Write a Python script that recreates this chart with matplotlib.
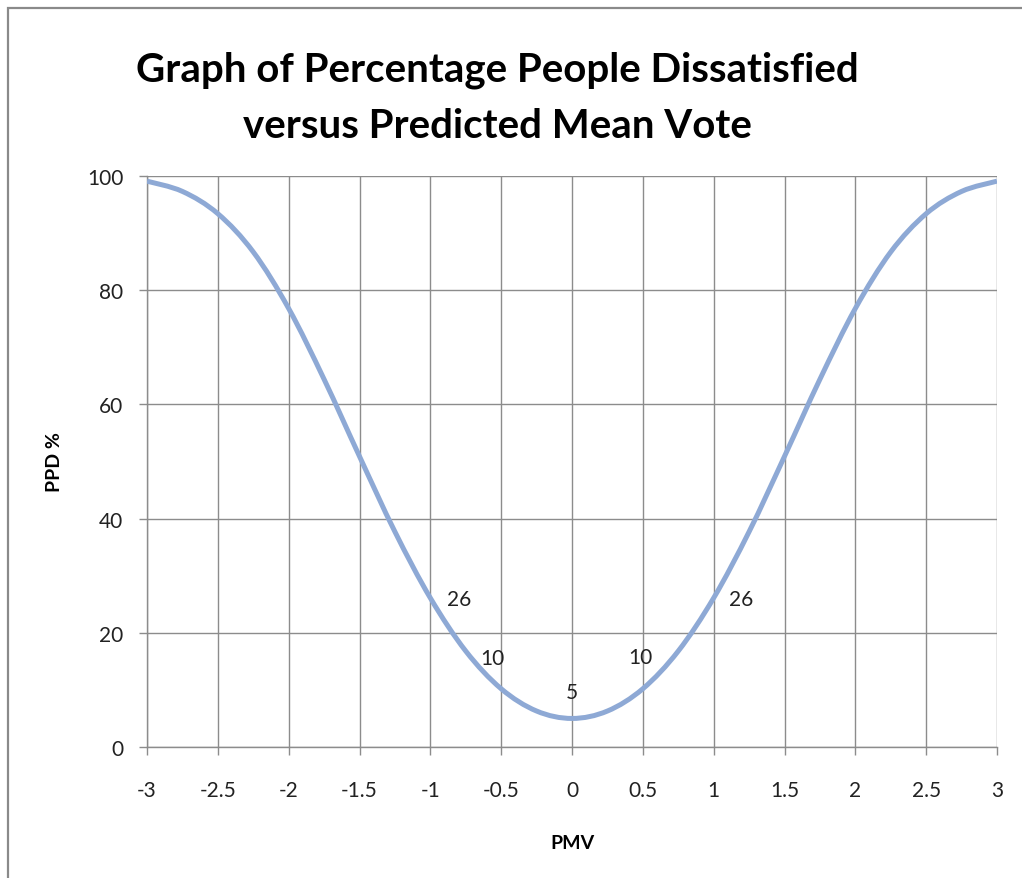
import matplotlib.pyplot as plt
from matplotlib.patches import Rectangle, PathPatch
from matplotlib.path import Path

# PMV / PPD pairs (Fanger comfort curve), read at quarter-vote steps
PMV = [-3.0, -2.75, -2.5, -2.25, -2.0, -1.75, -1.5, -1.25, -1.0, -0.75, -0.5, -0.25,
       0.0, 0.25, 0.5, 0.75, 1.0, 1.25, 1.5, 1.75, 2.0, 2.25, 2.5, 2.75, 3.0]
PPD = [99.1, 97.3, 93.4, 86.7, 76.8, 64.4, 50.9, 37.7, 26.1, 16.8, 10.2, 6.3,
       5.0, 6.3, 10.2, 16.8, 26.1, 37.7, 50.9, 64.4, 76.8, 86.7, 93.4, 97.3, 99.1]

# labelled points and where their value labels sit (offset in points)
LABEL_PMV = [-1.0, -0.5, 0.0, 0.5, 1.0]
LABEL_PPD = [26, 10, 5, 10, 26]
LABEL_OFFSETS = [(12, 0), (-6, 23), (0, 19), (-2, 24), (11, 0)]

X_TICKS = [-3, -2.5, -2, -1.5, -1, -0.5, 0, 0.5, 1, 1.5, 2, 2.5, 3]
X_TICK_LABELS = ["-3", "-2.5", "-2", "-1.5", "-1", "-0.5", "0", "0.5", "1", "1.5", "2", "2.5", "3"]
Y_TICKS = [0, 20, 40, 60, 80, 100]

LINE_COLOR = "#8EA9D5"
GRID_COLOR = "#8C8C8C"
TEXT_COLOR = "#222222"
FONT = ["Lato", "DejaVu Sans"]


def smooth_path(xs, ys):
    """Cubic Bezier through every point, like a spreadsheet 'smoothed line'."""
    pts = list(zip(xs, ys))
    verts = [pts[0]]
    codes = [Path.MOVETO]
    n = len(pts)
    for i in range(n - 1):
        p0 = pts[i - 1] if i > 0 else pts[i]
        p1 = pts[i]
        p2 = pts[i + 1]
        p3 = pts[i + 2] if i + 2 < n else pts[i + 1]
        c1 = (p1[0] + (p2[0] - p0[0]) / 6, p1[1] + (p2[1] - p0[1]) / 6)
        c2 = (p2[0] - (p3[0] - p1[0]) / 6, p2[1] - (p3[1] - p1[1]) / 6)
        verts += [c1, c2, p2]
        codes += [Path.CURVE4] * 3
    return Path(verts, codes)


plt.rcParams["font.family"] = FONT

fig = plt.figure(figsize=(10.22, 8.79), dpi=100)
W, H = 1022, 879

# chart-area frame (runs off the right and bottom edges)
fig.patches.append(Rectangle((8 / W, -0.05), 1.1, 1 - 9 / H + 0.05,
                             transform=fig.transFigure, fill=False,
                             edgecolor="#8A8A8A", linewidth=1.6))

ax = fig.add_axes([147 / W, 1 - 748 / H, (997 - 147) / W, (748 - 177) / H])

ax.add_patch(PathPatch(smooth_path(PMV, PPD), facecolor="none",
                       edgecolor=LINE_COLOR, linewidth=3.6, zorder=3))

for x, y, off in zip(LABEL_PMV, LABEL_PPD, LABEL_OFFSETS):
    ax.annotate(str(y), (x, y), xytext=off, textcoords="offset points",
                ha="left" if off[0] > 10 else "center", va="center",
                fontsize=15, color=TEXT_COLOR, zorder=4)

ax.set_xlim(-3, 3)
ax.set_ylim(0, 100)
ax.set_xticks(X_TICKS)
ax.set_xticklabels(X_TICK_LABELS)
ax.set_yticks(Y_TICKS)

ax.grid(True, color=GRID_COLOR, linewidth=1.0)
ax.set_axisbelow(True)
for side in ("top", "right"):
    ax.spines[side].set_visible(False)
for side in ("left", "bottom"):
    ax.spines[side].set_color(GRID_COLOR)
    ax.spines[side].set_linewidth(1.0)

ax.tick_params(axis="both", colors=GRID_COLOR, length=6, width=1.0,
               labelcolor=TEXT_COLOR, labelsize=15)
ax.tick_params(axis="x", pad=18)
ax.tick_params(axis="y", pad=11)

ax.set_xlabel("PMV", fontsize=14, fontweight="bold", labelpad=24)
ax.set_ylabel("PPD %", fontsize=14, fontweight="bold", labelpad=17)

fig.text(497 / W, 1 - 70 / H, "Graph of Percentage People Dissatisfied",
         ha="center", va="center", fontsize=29, fontweight="bold")
fig.text(497 / W, 1 - 127 / H, "versus Predicted Mean Vote",
         ha="center", va="center", fontsize=29, fontweight="bold")

fig.savefig("out.png", dpi=100)
